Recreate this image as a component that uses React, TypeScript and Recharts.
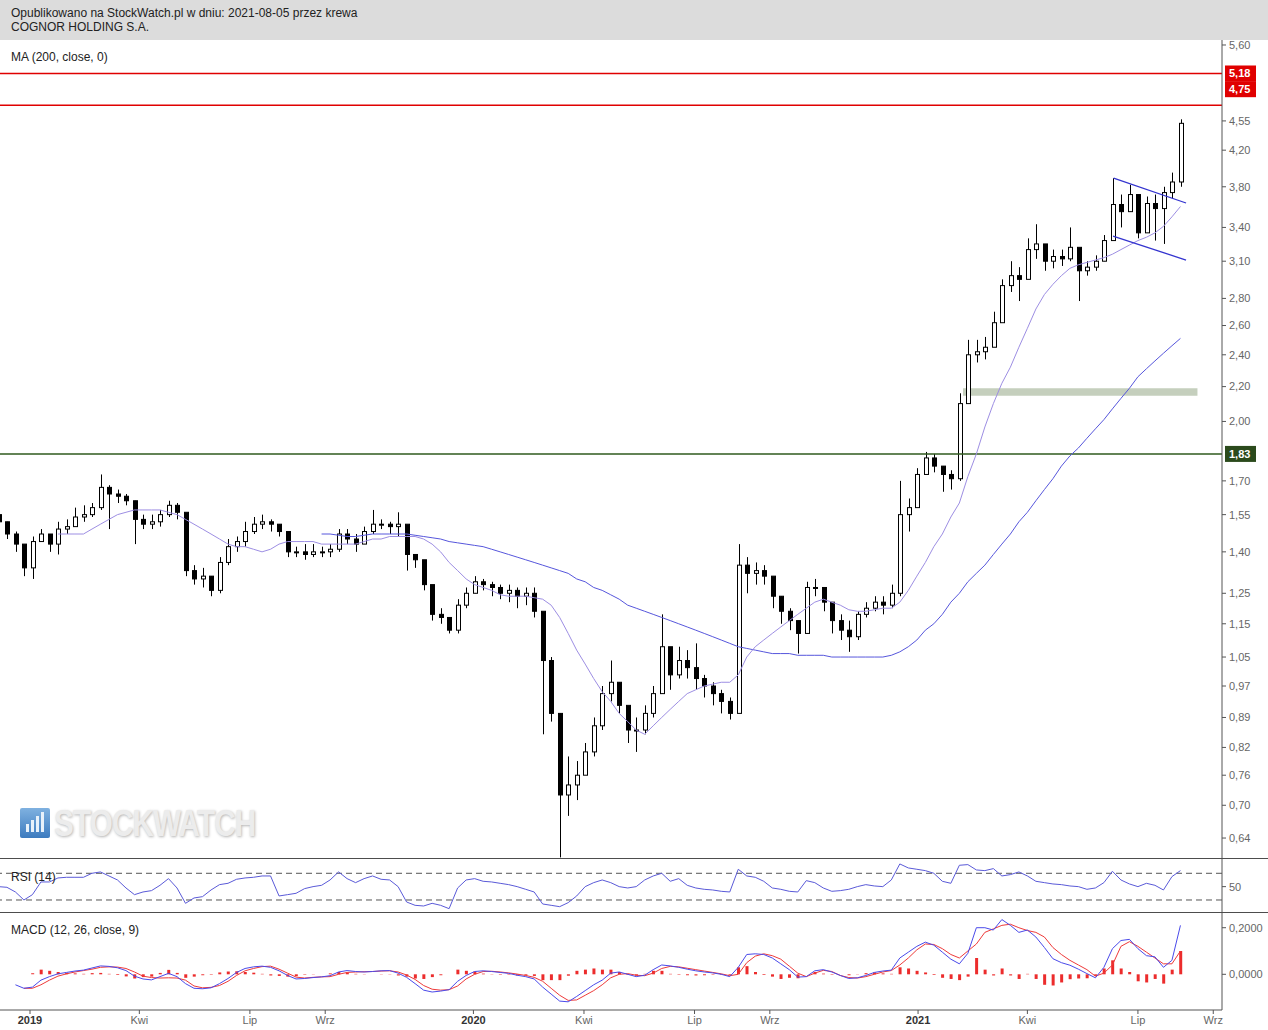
import React from 'react';
import {
  ComposedChart, Bar, Line, XAxis, YAxis, ReferenceLine, ReferenceArea,
} from 'recharts';

// weekly bars; day = days since 2019-01-01
const FIRST_DAY = -26;
const FIRST_OPEN = 1.55;

const closes = [
  1.52, 1.47, 1.43, 1.34, 1.44, 1.47, 1.43, 1.49, 1.50, 1.54,
  1.55, 1.58, 1.67, 1.64, 1.63, 1.61, 1.53, 1.51, 1.52, 1.55,
  1.59, 1.56, 1.33, 1.30, 1.31, 1.26, 1.36, 1.42, 1.44, 1.48,
  1.51, 1.52, 1.51, 1.48, 1.40, 1.40, 1.39, 1.40, 1.40, 1.41,
  1.47, 1.45, 1.43, 1.48, 1.51, 1.51, 1.50, 1.51, 1.39, 1.37,
  1.28, 1.18, 1.17, 1.13, 1.21, 1.25, 1.29, 1.28, 1.27, 1.25,
  1.26, 1.24, 1.25, 1.19, 1.04, 0.90, 0.72, 0.74, 0.76, 0.81,
  0.87, 0.95, 0.98, 0.92, 0.86, 0.86, 0.90, 0.95, 1.08, 1.00,
  1.04, 1.02, 0.99, 0.97, 0.95, 0.93, 0.90, 1.35, 1.32, 1.33,
  1.31, 1.24, 1.19, 1.16, 1.12, 1.27, 1.27, 1.22, 1.16, 1.13,
  1.11, 1.18, 1.20, 1.22, 1.21, 1.25, 1.55, 1.58, 1.73, 1.81,
  1.77, 1.73, 1.71, 2.10, 2.40, 2.42, 2.45, 2.62, 2.90, 2.98,
  2.95, 3.20, 3.25, 3.10, 3.14, 3.12, 3.22, 3.02, 3.05, 3.10,
  3.28, 3.62, 3.55, 3.72, 3.35, 3.63, 3.58, 3.74, 3.85, 4.52,
];

const highs = [
  1.56, 1.52, 1.48, 1.42, 1.46, 1.49, 1.47, 1.52, 1.53, 1.58,
  1.59, 1.60, 1.73, 1.68, 1.66, 1.64, 1.61, 1.55, 1.55, 1.57,
  1.61, 1.60, 1.53, 1.35, 1.34, 1.31, 1.38, 1.45, 1.46, 1.52,
  1.54, 1.55, 1.53, 1.51, 1.47, 1.42, 1.43, 1.43, 1.42, 1.43,
  1.49, 1.49, 1.47, 1.50, 1.57, 1.53, 1.52, 1.56, 1.42, 1.39,
  1.35, 1.26, 1.20, 1.17, 1.23, 1.27, 1.31, 1.30, 1.29, 1.28,
  1.28, 1.27, 1.27, 1.27, 1.17, 1.05, 0.90, 0.80, 0.79, 0.83,
  0.89, 0.97, 1.04, 0.98, 0.91, 0.89, 0.92, 0.97, 1.18, 1.07,
  1.08, 1.07, 1.09, 1.00, 0.98, 0.96, 0.94, 1.43, 1.38, 1.36,
  1.35, 1.30, 1.24, 1.20, 1.16, 1.29, 1.30, 1.27, 1.21, 1.18,
  1.16, 1.19, 1.22, 1.24, 1.24, 1.28, 1.70, 1.62, 1.76, 1.84,
  1.83, 1.77, 1.75, 2.16, 2.50, 2.50, 2.52, 2.70, 2.95, 3.10,
  3.05, 3.30, 3.43, 3.22, 3.20, 3.20, 3.40, 3.15, 3.10, 3.15,
  3.33, 3.89, 3.72, 3.82, 3.62, 3.70, 3.72, 3.80, 3.95, 4.57,
];

const lows = [
  1.50, 1.45, 1.40, 1.31, 1.30, 1.44, 1.40, 1.39, 1.47, 1.51,
  1.52, 1.54, 1.57, 1.49, 1.60, 1.59, 1.43, 1.49, 1.49, 1.50,
  1.54, 1.53, 1.31, 1.28, 1.27, 1.24, 1.25, 1.35, 1.40, 1.42,
  1.47, 1.49, 1.48, 1.46, 1.38, 1.38, 1.37, 1.38, 1.38, 1.38,
  1.40, 1.43, 1.40, 1.43, 1.47, 1.49, 1.47, 1.46, 1.33, 1.34,
  1.26, 1.16, 1.15, 1.12, 1.12, 1.20, 1.25, 1.26, 1.24, 1.23,
  1.22, 1.20, 1.21, 1.17, 0.85, 0.88, 0.607, 0.68, 0.71, 0.77,
  0.80, 0.86, 0.93, 0.90, 0.83, 0.81, 0.85, 0.89, 0.95, 0.96,
  0.99, 0.99, 0.96, 0.94, 0.92, 0.90, 0.885, 0.92, 1.25, 1.28,
  1.28, 1.20, 1.15, 1.13, 1.06, 1.12, 1.24, 1.19, 1.12, 1.10,
  1.065, 1.10, 1.17, 1.19, 1.18, 1.20, 1.24, 1.48, 1.60, 1.74,
  1.74, 1.65, 1.66, 1.70, 2.12, 2.35, 2.37, 2.47, 2.68, 2.85,
  2.78, 3.00, 3.12, 3.02, 3.04, 3.06, 3.10, 2.78, 2.98, 3.02,
  3.10, 3.30, 3.40, 3.55, 3.30, 3.55, 3.28, 3.25, 3.68, 3.80,
];

const ma50 = [
  null, null, null, null, null, null, null, 1.47, 1.47, 1.47,
  1.47, 1.49, 1.51, 1.53, 1.55, 1.56, 1.57, 1.57, 1.57, 1.57,
  1.56, 1.55, 1.53, 1.51, 1.49, 1.47, 1.45, 1.43, 1.42, 1.42,
  1.41, 1.40, 1.41, 1.43, 1.44, 1.44, 1.44, 1.44, 1.43, 1.43,
  1.43, 1.43, 1.43, 1.44, 1.45, 1.45, 1.46, 1.46, 1.46, 1.46,
  1.45, 1.43, 1.40, 1.36, 1.33, 1.30, 1.28, 1.27, 1.26, 1.245,
  1.24, 1.24, 1.24, 1.235, 1.23, 1.21, 1.17, 1.12, 1.07, 1.03,
  0.99, 0.955, 0.93, 0.90, 0.88, 0.86, 0.85, 0.87, 0.89, 0.91,
  0.93, 0.95, 0.96, 0.97, 0.975, 0.98, 0.98, 1.00, 1.05, 1.08,
  1.10, 1.12, 1.14, 1.16, 1.18, 1.20, 1.22, 1.23, 1.22, 1.21,
  1.195, 1.19, 1.19, 1.195, 1.20, 1.20, 1.22, 1.26, 1.31, 1.36,
  1.42, 1.47, 1.54, 1.60, 1.72, 1.83, 1.97, 2.10, 2.22, 2.32,
  2.45, 2.58, 2.72, 2.83, 2.91, 2.98, 3.04, 3.07, 3.09, 3.11,
  3.13, 3.16, 3.20, 3.24, 3.28, 3.31, 3.35, 3.41, 3.50, 3.60,
];

const ma200 = [
  null, null, null, null, null, null, null, null, null, null,
  null, null, null, null, null, null, null, null, null, null,
  null, null, null, null, null, null, null, null, null, null,
  null, null, null, null, null, null, null, null, 1.47, 1.47,
  1.465, 1.46, 1.46, 1.465, 1.47, 1.47, 1.47, 1.47, 1.47, 1.465,
  1.46, 1.455, 1.45, 1.44, 1.435, 1.43, 1.425, 1.42, 1.41, 1.40,
  1.39, 1.38, 1.37, 1.36, 1.35, 1.34, 1.33, 1.32, 1.30, 1.29,
  1.27, 1.26, 1.245, 1.23, 1.21, 1.20, 1.19, 1.18, 1.17, 1.16,
  1.15, 1.14, 1.13, 1.12, 1.11, 1.10, 1.09, 1.08, 1.075, 1.07,
  1.065, 1.06, 1.06, 1.06, 1.055, 1.055, 1.055, 1.055, 1.05, 1.05,
  1.05, 1.05, 1.05, 1.05, 1.05, 1.055, 1.065, 1.08, 1.10, 1.13,
  1.15, 1.18, 1.22, 1.25, 1.29, 1.32, 1.35, 1.39, 1.43, 1.47,
  1.52, 1.56, 1.61, 1.66, 1.71, 1.77, 1.82, 1.86, 1.91, 1.96,
  2.01, 2.07, 2.13, 2.19, 2.26, 2.31, 2.36, 2.41, 2.46, 2.51,
];

const rsi = [
  50, 49, 42, 30, 38, 57, 57, 63, 64, 64,
  64, 70, 72, 66, 60, 48, 38, 42, 44, 52,
  62, 48, 25, 33, 35, 45, 53, 55, 61, 63,
  64, 66, 66, 36, 38, 40, 47, 50, 52, 60,
  72, 62, 56, 62, 66, 61, 60, 50, 27, 22,
  21, 25, 22, 17, 48, 60, 62, 58, 57, 55,
  53, 50, 46, 42, 24, 22, 20, 26, 36, 50,
  56, 60, 56, 50, 48, 50, 60, 66, 70, 58,
  62, 52, 48, 46, 45, 43, 42, 76, 66, 64,
  58, 48, 46, 43, 42, 59, 56, 48, 43, 44,
  46, 50, 53, 51, 50, 60, 84, 78, 76, 74,
  70, 58, 55, 82, 83, 75, 74, 77, 66, 68,
  72, 66, 58, 56, 54, 53, 51, 50, 46, 48,
  56, 73, 60, 54, 50, 55, 52, 45, 65, 74,
];

const macd = [
  null, null, -0.045, -0.06, -0.055, -0.025, -0.01, 0.002, 0.008, 0.014,
  0.018, 0.027, 0.036, 0.034, 0.028, 0.016, -0.008, -0.02, -0.024, -0.01,
  0.004, -0.01, -0.04, -0.06, -0.062, -0.058, -0.04, -0.018, 0.008, 0.025,
  0.032, 0.035, 0.03, 0.015, -0.005, -0.02, -0.018, -0.014, -0.011, -0.006,
  0.01, 0.016, 0.012, 0.01, 0.012, 0.015, 0.016, 0.005, -0.013, -0.04,
  -0.068, -0.076, -0.072, -0.066, -0.03, -0.005, 0.012, 0.015, 0.012, 0.008,
  0.004, -0.004, -0.01, -0.02, -0.055, -0.085, -0.115, -0.118, -0.095, -0.07,
  -0.045, -0.025, 0.005, 0.01, 0.0, -0.01, -0.004, 0.02, 0.04, 0.036,
  0.03, 0.022, 0.015, 0.01, 0.006, 0.0, -0.01, 0.03, 0.085, 0.088,
  0.085, 0.07, 0.045, 0.02, -0.012, -0.01, 0.015, 0.02, 0.01, -0.005,
  -0.018, -0.015, -0.005, 0.008, 0.014, 0.018, 0.07, 0.095, 0.12, 0.138,
  0.125, 0.095, 0.065, 0.045, 0.09, 0.2, 0.2, 0.19, 0.235, 0.21,
  0.18, 0.19, 0.16, 0.115, 0.067, 0.05, 0.039, 0.022, 0.003, -0.015,
  0.03, 0.11, 0.145, 0.15, 0.11, 0.08, 0.075, 0.03, 0.06, 0.21,
];

const signal = [
  null, null, null, -0.06, -0.06, -0.045, -0.025, -0.008, 0.002, 0.01,
  0.016, 0.022, 0.03, 0.032, 0.031, 0.025, 0.01, -0.008, -0.014, -0.016,
  -0.015, -0.016, -0.025, -0.05, -0.058, -0.056, -0.048, -0.03, -0.005, 0.015,
  0.025, 0.033, 0.035, 0.022, 0.005, -0.012, -0.016, -0.013, -0.011, -0.01,
  0.0, 0.008, 0.01, 0.011, 0.012, 0.014, 0.015, 0.01, -0.003, -0.022,
  -0.048, -0.064, -0.068, -0.066, -0.05, -0.02, 0.0, 0.012, 0.013, 0.01,
  0.006, 0.001, -0.005, -0.013, -0.03, -0.06, -0.09, -0.112, -0.11, -0.09,
  -0.07, -0.045, -0.015, 0.0, 0.003, -0.004, -0.006, 0.005, 0.025, 0.034,
  0.032, 0.026, 0.02, 0.014, 0.008, 0.002, -0.006, 0.0, 0.05, 0.078,
  0.088, 0.08, 0.065, 0.035, 0.005, -0.01, 0.005, 0.017, 0.012, -0.005,
  -0.014, -0.016, -0.01, 0.0, 0.01, 0.016, 0.04, 0.07, 0.105, 0.13,
  0.128, 0.11, 0.085, 0.07, 0.1, 0.13, 0.18, 0.195, 0.21, 0.215,
  0.2, 0.188, 0.18, 0.16, 0.115, 0.085, 0.06, 0.04, 0.02, -0.008,
  0.005, 0.04, 0.12, 0.14, 0.12, 0.095, 0.07, 0.045, 0.045, 0.1,
];

const hist = [
  null, null, null, 0.0, 0.005, 0.02, 0.015, 0.01, 0.006, 0.004,
  0.002, 0.005, 0.006, 0.002, -0.003, -0.009, -0.018, -0.012, -0.01, 0.006,
  0.019, 0.006, -0.015, -0.01, -0.004, -0.002, 0.008, 0.012, 0.013, 0.01,
  0.007, 0.002, -0.005, -0.007, -0.01, -0.008, -0.002, -0.001, 0.0, 0.004,
  0.01, 0.008, 0.002, -0.001, 0.0, 0.001, 0.001, -0.005, -0.01, -0.018,
  -0.02, -0.012, -0.004, 0.0, 0.02, 0.015, 0.012, 0.003, -0.001, -0.002,
  -0.002, -0.005, -0.005, -0.007, -0.025, -0.025, -0.025, -0.006, 0.015, 0.02,
  0.025, 0.02, 0.02, 0.01, -0.003, -0.006, 0.002, 0.015, 0.015, 0.002,
  -0.002, -0.004, -0.005, -0.004, -0.002, -0.002, -0.004, 0.03, 0.035, 0.01,
  -0.003, -0.01, -0.02, -0.015, -0.017, 0.0, 0.01, 0.003, -0.002, 0.0,
  -0.004, 0.001, 0.005, 0.008, 0.004, 0.002, 0.03, 0.025, 0.015, 0.008,
  -0.003, -0.015, -0.02, -0.025, -0.01, 0.07, 0.02, -0.005, 0.025, -0.005,
  -0.02, 0.002, -0.02, -0.045, -0.048, -0.035, -0.021, -0.018, -0.017, -0.007,
  0.025, 0.06, 0.025, 0.01, -0.03, -0.035, -0.02, -0.04, 0.02, 0.1,
];

const xTicks = [0, 90, 181, 243, 365, 456, 547, 609, 731, 821, 912, 974];
const xTickLabels = ['2019', 'Kwi', 'Lip', 'Wrz', '2020', 'Kwi', 'Lip', 'Wrz', '2021', 'Kwi', 'Lip', 'Wrz'];
const priceTicks = [5.6, 4.55, 4.2, 3.8, 3.4, 3.1, 2.8, 2.6, 2.4, 2.2, 2.0, 1.7, 1.55, 1.4, 1.25, 1.15, 1.05, 0.97, 0.89, 0.82, 0.76, 0.7, 0.64];

// levels drawn on the price panel
const resistance = [5.18, 4.75];
const support = 1.83;
const zone = { from: 768, to: 961, low: 2.145, high: 2.19 };
const flagTop = [{ x: 892, y: 3.89 }, { x: 951.6, y: 3.635 }];
const flagBottom = [{ x: 891.5, y: 3.32 }, { x: 951.6, y: 3.11 }];

const rows = closes.map((c, i) => ({
  day: FIRST_DAY + i * 7,
  open: i === 0 ? FIRST_OPEN : closes[i - 1],
  close: c,
  high: highs[i],
  low: lows[i],
  range: [lows[i], highs[i]],
  ma50: ma50[i],
  ma200: ma200[i],
  rsi: rsi[i],
  macd: macd[i],
  signal: signal[i],
  hist: hist[i],
}));

const FONT = '"Liberation Sans", Arial, sans-serif';
const X_DOMAIN = [-24.7, 981.2];
const AXIS_W = 46;
const W = 1268;

function Candle(props: any) {
  const { x, y, width, height, payload } = props;
  if (!payload || height == null || isNaN(y)) return null;
  const { open, close, high, low } = payload;
  const lh = Math.log(high);
  const span = lh - Math.log(low) || 1;
  const toY = (v: number) => y + (height * (lh - Math.log(v))) / span;
  const cx = Math.round(x + width / 2) + 0.5;
  const yo = toY(open);
  const yc = toY(close);
  const top = Math.min(yo, yc);
  const bh = Math.max(1, Math.abs(yc - yo));
  const up = close >= open;
  return (
    <g>
      <line x1={cx} x2={cx} y1={y} y2={y + height} stroke="#000" strokeWidth={1} />
      <rect x={cx - width / 2 + 0.5} y={top} width={width - 1} height={bh} fill={up ? '#fff' : '#000'} stroke="#000" strokeWidth={1} />
    </g>
  );
}

function LevelLabel({ viewBox, text, bg, shift = 0 }: any) {
  if (!viewBox) return null;
  const x = viewBox.x + viewBox.width + 3;
  const y = viewBox.y + shift;
  return (
    <g>
      <rect x={x} y={y - 8} width={31} height={16} fill={bg} />
      <text x={x + 4} y={y + 4} fontSize={11} fontWeight={700} fill="#fff" fontFamily={FONT}>{text}</text>
    </g>
  );
}

function XTick({ x, y, payload }: any) {
  const label = xTickLabels[xTicks.indexOf(payload.value)];
  const bold = /^\d{4}$/.test(label);
  return (
    <text x={x} y={y} dy="0.71em" textAnchor="middle" fontSize={11} fontWeight={bold ? 700 : 400} fill={bold ? '#333' : '#666'} fontFamily={FONT}>
      {label}
    </text>
  );
}

const fmtComma = (d: number) => (v: number) => v.toFixed(d).replace('.', ',');
const tickStyle = { fill: '#666', fontSize: 11, fontFamily: FONT };

export default function App() {
  const label = { position: 'absolute' as const, left: 11, fontSize: 12, color: '#222', fontFamily: FONT };
  const hline = (top: number) => (
    <div style={{ position: 'absolute', left: 0, top, width: W, height: 1, background: '#4d4d4d' }} />
  );
  return (
    <div style={{ position: 'absolute', left: 0, top: 0, width: W, height: 1030, background: '#fff', fontFamily: FONT, overflow: 'hidden' }}>
      <div style={{ position: 'absolute', left: 0, top: 0, width: W, height: 40, background: '#dcdcdc' }}>
        <div style={{ position: 'absolute', left: 11, top: 6, fontSize: 12, lineHeight: '14px', color: '#222' }}>
          Opublikowano na StockWatch.pl w dniu: 2021-08-05 przez krewa<br />COGNOR HOLDING S.A.
        </div>
      </div>

      {/* watermark */}
      <div style={{ position: 'absolute', left: 20, top: 808, width: 30, height: 30, background: 'linear-gradient(#7fb1e0, #3d7bbf)', borderRadius: 2 }}>
        {[8, 12, 16, 20].map((h, k) => (
          <div key={k} style={{ position: 'absolute', bottom: 6, left: 6 + k * 5, width: 3, height: h, background: '#e8f1fa' }} />
        ))}
      </div>
      <div style={{ position: 'absolute', left: 54, top: 803, fontSize: 37, fontWeight: 700, letterSpacing: -1, color: '#ececec', textShadow: '1px 1px 3px #b5b5b5', transform: 'scaleX(0.8)', transformOrigin: 'left top', whiteSpace: 'nowrap' }}>
        STOCKWATCH
      </div>

      <div style={{ position: 'absolute', left: 0, top: 40 }}>
        <ComposedChart width={W} height={818} data={rows} margin={{ top: 0, right: 0, bottom: 0, left: 0 }}>
          <XAxis dataKey="day" type="number" domain={X_DOMAIN} allowDataOverflow hide />
          <YAxis
            orientation="right"
            width={AXIS_W}
            scale="log"
            domain={[0.606, 5.677]}
            allowDataOverflow
            ticks={priceTicks}
            interval={0}
            tickFormatter={fmtComma(2)}
            tick={tickStyle}
            tickSize={4}
            tickMargin={3}
            stroke="#555"
          />
          <ReferenceArea x1={zone.from} x2={zone.to} y1={zone.low} y2={zone.high} fill="#c5cfbd" fillOpacity={1} stroke="none" ifOverflow="visible" />
          <ReferenceLine y={resistance[0]} stroke="#e00000" strokeWidth={1.5} label={(p: any) => <LevelLabel {...p} text="5,18" bg="#e00000" />} />
          <ReferenceLine y={resistance[1]} stroke="#e00000" strokeWidth={1.5} label={(p: any) => <LevelLabel {...p} text="4,75" bg="#e00000" shift={-16} />} />
          <ReferenceLine y={support} stroke="#2f5a1e" strokeWidth={1.5} label={(p: any) => <LevelLabel {...p} text="1,83" bg="#2b4a1c" />} />
          <Line dataKey="ma200" stroke="#5656dc" strokeWidth={1} dot={false} isAnimationActive={false} />
          <Line dataKey="ma50" stroke="#9d8ee3" strokeWidth={1} dot={false} isAnimationActive={false} />
          <Bar dataKey="range" barSize={5} shape={<Candle />} isAnimationActive={false} />
          <ReferenceLine segment={flagTop} stroke="#3434cf" strokeWidth={1.3} ifOverflow="visible" />
          <ReferenceLine segment={flagBottom} stroke="#3434cf" strokeWidth={1.3} ifOverflow="visible" />
        </ComposedChart>
      </div>
      <div style={{ ...label, top: 50 }}>MA (200, close, 0)</div>

      <div style={{ position: 'absolute', left: 0, top: 858 }}>
        <ComposedChart width={W} height={54} data={rows} margin={{ top: 0, right: 0, bottom: 0, left: 0 }}>
          <XAxis dataKey="day" type="number" domain={X_DOMAIN} allowDataOverflow hide />
          <YAxis orientation="right" width={AXIS_W} domain={[12, 92.9]} allowDataOverflow ticks={[50]} tick={tickStyle} tickSize={4} tickMargin={3} stroke="#555" />
          <ReferenceLine y={70} stroke="#555" strokeDasharray="6 4" />
          <ReferenceLine y={30} stroke="#555" strokeDasharray="6 4" />
          <Line dataKey="rsi" stroke="#5a5ad8" strokeWidth={1} dot={false} isAnimationActive={false} />
        </ComposedChart>
      </div>
      <div style={{ ...label, top: 870 }}>RSI (14)</div>

      <div style={{ position: 'absolute', left: 0, top: 912 }}>
        <ComposedChart width={W} height={118} data={rows} margin={{ top: 0, right: 0, bottom: 0, left: 0 }}>
          <XAxis
            dataKey="day"
            type="number"
            domain={X_DOMAIN}
            allowDataOverflow
            ticks={xTicks}
            interval={0}
            height={20}
            tick={<XTick />}
            tickSize={4}
            tickMargin={2}
            stroke="#555"
          />
          <YAxis orientation="right" width={AXIS_W} domain={[-0.1532, 0.2674]} allowDataOverflow ticks={[0, 0.2]} tickFormatter={fmtComma(4)} tick={tickStyle} tickSize={4} tickMargin={3} stroke="#555" />
          <Bar dataKey="hist" fill="#ec2c2c" barSize={3} isAnimationActive={false} />
          <Line dataKey="signal" stroke="#ee3a3a" strokeWidth={1} dot={false} isAnimationActive={false} />
          <Line dataKey="macd" stroke="#4a4aea" strokeWidth={1} dot={false} isAnimationActive={false} />
        </ComposedChart>
      </div>
      <div style={{ ...label, top: 923 }}>MACD (12, 26, close, 9)</div>

      {hline(858)}
      {hline(912)}
    </div>
  );
}
